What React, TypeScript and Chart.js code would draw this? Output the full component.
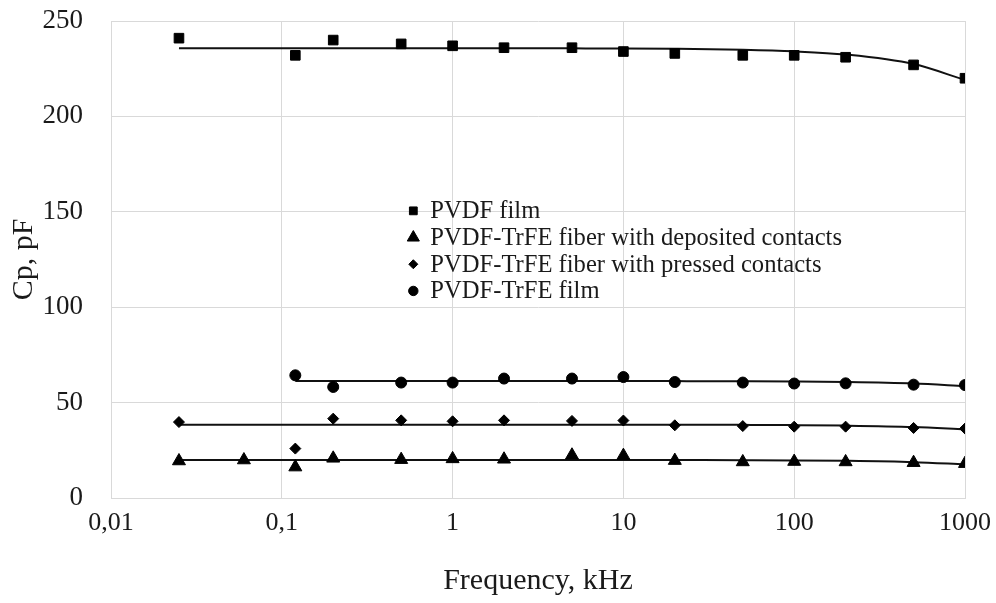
import React, { useEffect, useRef } from 'react';
import { Chart, registerables } from 'chart.js';
import { drawPoint } from 'chart.js/helpers';

Chart.register(...registerables);

// ---- data ----
const FREQ = [0.025, 0.12, 0.2, 0.5, 1, 2, 5, 10, 20, 50, 100, 200, 500, 1000];
const FREQ_DEPOSITED = [0.025, 0.06, 0.12, 0.2, 0.5, 1, 2, 5, 10, 20, 50, 100, 200, 500, 1000];
const FREQ_TRFE_FILM = [0.12, 0.2, 0.5, 1, 2, 5, 10, 20, 50, 100, 200, 500, 1000];

const PVDF_FILM = [241, 232, 240, 238, 237, 236, 236, 234, 233, 232, 232, 231, 227, 220];
const FIBER_DEPOSITED = [19.4, 19.9, 16.2, 20.8, 20.1, 20.5, 20.3, 22.4, 22.2, 19.6, 18.9, 19.1, 18.9, 18.5, 18.0];
const FIBER_PRESSED = [39.8, 25.9, 41.6, 40.7, 40.2, 40.7, 40.4, 40.6, 38.1, 37.7, 37.4, 37.4, 36.7, 36.4];
const TRFE_FILM = [64.3, 58.2, 60.5, 60.5, 62.6, 62.6, 63.4, 60.8, 60.5, 60.0, 60.1, 59.4, 59.2];

const SERIES_LABELS = [
  'PVDF film',
  'PVDF-TrFE fiber with deposited contacts',
  'PVDF-TrFE fiber with pressed contacts',
  'PVDF-TrFE film',
];

const X_TICKS = [0.01, 0.1, 1, 10, 100, 1000];
const X_TICK_LABELS = ['0,01', '0,1', '1', '10', '100', '1000'];
const Y_MIN = 0;
const Y_MAX = 250;
const Y_STEP = 50;

const X_TITLE = 'Frequency, kHz';
const Y_TITLE = 'Cp, pF';

// ---- styles ----
const FONT = '"Liberation Serif", "Times New Roman", serif';
const TEXT_COLOR = '#1a1a1a';
const GRID_COLOR = '#d9d9d9';

// least-squares linear trend (as the spreadsheet trendline), evaluated at the data x's
function linearTrend(xs: number[], ys: number[]) {
  const n = xs.length;
  const mx = xs.reduce((a, b) => a + b, 0) / n;
  const my = ys.reduce((a, b) => a + b, 0) / n;
  let sxx = 0;
  let sxy = 0;
  for (let i = 0; i < n; i++) {
    sxx += (xs[i] - mx) * (xs[i] - mx);
    sxy += (xs[i] - mx) * (ys[i] - my);
  }
  const slope = sxy / sxx;
  const intercept = my - slope * mx;
  return xs.map((x) => ({ x, y: intercept + slope * x }));
}

const toPoints = (xs: number[], ys: number[]) => xs.map((x, i) => ({ x, y: ys[i] }));

const legendPlugin = {
  id: 'innerLegend',
  afterDatasetsDraw(chart: any) {
    const { ctx, chartArea } = chart;
    const w = chartArea.right - chartArea.left;
    const h = chartArea.bottom - chartArea.top;
    const x0 = chartArea.left + 0.354 * w;
    let y = chartArea.top + 0.398 * h;
    ctx.save();
    ctx.font = `24.6px ${FONT}`;
    ctx.textBaseline = 'middle';
    ctx.textAlign = 'left';
    chart.data.datasets.forEach((ds: any) => {
      if (!ds.inLegend) return;
      ctx.fillStyle = '#000';
      ctx.strokeStyle = '#000';
      ctx.lineWidth = 1;
      drawPoint(ctx, { pointStyle: ds.pointStyle, radius: ds.legendRadius, borderWidth: 1, rotation: 0 }, x0, y);
      ctx.fillStyle = TEXT_COLOR;
      ctx.fillText(ds.label, x0 + 17, y + 1);
      y += 26.7;
    });
    ctx.restore();
  },
};

export default function App() {
  const canvasRef = useRef<HTMLCanvasElement | null>(null);

  useEffect(() => {
    if (!canvasRef.current) return;

    const seriesDefs = [
      { xs: FREQ, ys: PVDF_FILM, style: 'rect', radius: 6.8, legendRadius: 5.5 },
      { xs: FREQ_DEPOSITED, ys: FIBER_DEPOSITED, style: 'triangle', radius: 7.5, legendRadius: 7 },
      { xs: FREQ, ys: FIBER_PRESSED, style: 'rectRot', radius: 5.5, legendRadius: 4.5 },
      { xs: FREQ_TRFE_FILM, ys: TRFE_FILM, style: 'circle', radius: 5.5, legendRadius: 4.7 },
    ];

    const markerSets = seriesDefs.map((s, i) => ({
      label: SERIES_LABELS[i],
      data: toPoints(s.xs, s.ys),
      showLine: false,
      pointStyle: s.style,
      pointRadius: s.radius,
      pointBorderWidth: 1,
      pointBackgroundColor: '#000',
      pointBorderColor: '#000',
      inLegend: true,
      legendRadius: s.legendRadius,
      order: 0,
    }));

    const trendSets = seriesDefs.map((s, i) => ({
      label: SERIES_LABELS[i] + ' trend',
      data: linearTrend(s.xs, s.ys),
      showLine: true,
      pointRadius: 0,
      borderColor: '#111',
      borderWidth: 2,
      cubicInterpolationMode: 'monotone',
      inLegend: false,
      order: 1,
    }));

    const chart = new Chart(canvasRef.current, {
      type: 'scatter',
      data: { datasets: [...markerSets, ...trendSets] as any },
      options: {
        responsive: false,
        animation: false,
        layout: { padding: { left: 0, right: 31, top: 21, bottom: 0 } },
        plugins: {
          legend: { display: false },
          tooltip: { enabled: false },
        },
        scales: {
          x: {
            type: 'logarithmic',
            min: X_TICKS[0],
            max: X_TICKS[X_TICKS.length - 1],
            afterBuildTicks: (scale: any) => {
              scale.ticks = X_TICKS.map((v) => ({ value: v }));
            },
            afterFit: (scale: any) => {
              scale.height = 105;
              scale.paddingLeft = 0;
              scale.paddingRight = 0;
            },
            ticks: {
              autoSkip: false,
              maxRotation: 0,
              padding: 10,
              color: TEXT_COLOR,
              font: { family: FONT, size: 26 },
              callback: (value: any) => {
                const idx = X_TICKS.indexOf(Number(value));
                return idx >= 0 ? X_TICK_LABELS[idx] : '';
              },
            },
            grid: { color: GRID_COLOR, lineWidth: 1, drawTicks: false },
            border: { color: GRID_COLOR },
            title: {
              display: true,
              text: X_TITLE,
              color: TEXT_COLOR,
              font: { family: FONT, size: 30 },
              padding: { top: 0, bottom: 4 },
            },
          },
          y: {
            type: 'linear',
            min: Y_MIN,
            max: Y_MAX,
            afterFit: (scale: any) => {
              scale.width = 111;
              scale.paddingTop = 0;
              scale.paddingBottom = 0;
            },
            ticks: {
              stepSize: Y_STEP,
              padding: 28,
              color: TEXT_COLOR,
              font: { family: FONT, size: 27 },
            },
            grid: { color: GRID_COLOR, lineWidth: 1, drawTicks: false },
            border: { color: GRID_COLOR },
            title: {
              display: true,
              text: Y_TITLE,
              color: TEXT_COLOR,
              font: { family: FONT, size: 30 },
              padding: { top: 6, bottom: 0 },
            },
          },
        },
      } as any,
      plugins: [legendPlugin],
    });

    return () => chart.destroy();
  }, []);

  return (
    <div style={{ position: 'absolute', left: 0, top: 0, width: 996, height: 603, background: '#fff' }}>
      <canvas ref={canvasRef} width={996} height={603} style={{ display: 'block' }} />
    </div>
  );
}
